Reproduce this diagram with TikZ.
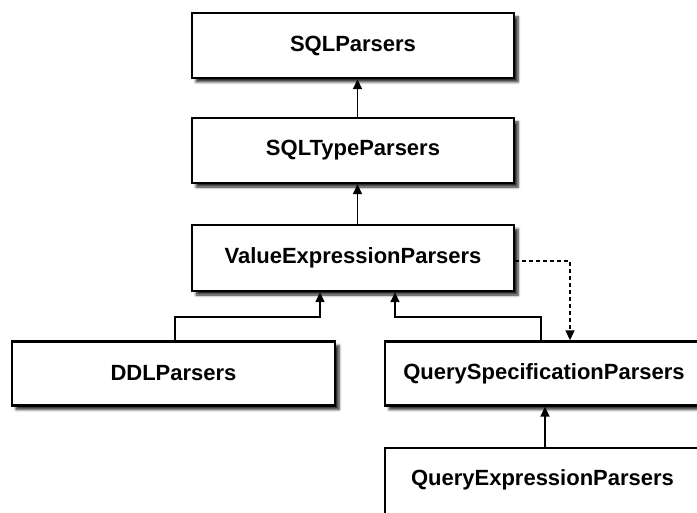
\documentclass[tikz,border=0pt]{standalone}
\usepackage{fontspec}
\setmainfont{Liberation Sans}
\usetikzlibrary{arrows.meta,shadows.blur}
\tikzset{
  cls/.style={draw=black, line width=2.4pt, fill=white, inner sep=0pt,
    font=\fontsize{22}{26}\selectfont\bfseries,
    blur shadow={shadow xshift=4pt, shadow yshift=-4pt, shadow blur steps=6, shadow blur radius=2.5pt, shadow opacity=85}},
  arr/.style={line width=1.6pt, -{Triangle[length=10pt,width=9pt]}},
  dep/.style={line width=1.6pt, dash pattern=on 4pt off 3pt, -{Triangle[length=10pt,width=9pt]}}
}
\begin{document}
\begin{tikzpicture}[x=1pt,y=-1pt]
\useasboundingbox (0,0) rectangle (697,513);
\begin{scope}
\clip (0,0) rectangle (697,513);
\node[cls, minimum width=322pt, minimum height=65pt] (sp) at (353,45.5) {SQLParsers};
\node[cls, minimum width=322pt, minimum height=65pt] (st) at (353,150.5) {SQLTypeParsers};
\node[cls, minimum width=322pt, minimum height=66pt] (vep) at (353,258) {ValueExpressionParsers};
\node[cls, minimum width=323pt, minimum height=64pt] (ddl) at (173.5,373.5) {DDLParsers};
\node[cls, minimum width=318pt, minimum height=64pt] (qs) at (544,373.5) {QuerySpecificationParsers};
\node[cls, minimum width=315pt, minimum height=80pt] (qe) at (542.5,488) {};
\node[font=\fontsize{22}{26}\selectfont\bfseries] (qet) at (542.5,479.5) {QueryExpressionParsers};
\draw[arr] ([xshift=4.5pt]st.north) -- ([xshift=4.5pt]sp.south);
\draw[arr] ([xshift=4.5pt]vep.north) -- ([xshift=4.5pt]st.south);
\draw[arr] ([xshift=1.5pt]ddl.north) -- ++(0,-23) -| ([xshift=-33pt]vep.south);
\draw[arr] ([xshift=-3pt]qs.north) -- ++(0,-23) -| ([xshift=42pt]vep.south);
\draw[dep] ([yshift=-3pt]vep.east) -| ([xshift=26pt]qs.north);
\draw[arr] ([xshift=2.5pt]qe.north) -- ([xshift=1pt]qs.south);
\end{scope}
\end{tikzpicture}
\end{document}
